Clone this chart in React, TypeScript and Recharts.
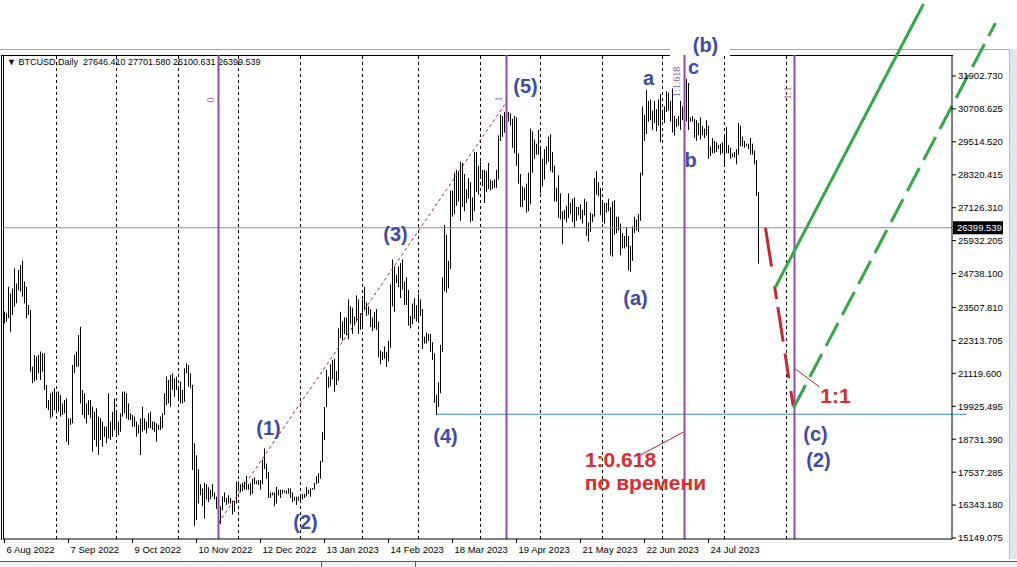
import React from "react";
import { ComposedChart, Bar, XAxis, YAxis, ReferenceLine, ReferenceDot } from "recharts";

// daily bars, BTCUSD, starting 6 Aug 2022 (index 0)
const HIGH = [
  23360, 23300, 24260, 24020, 24200, 24930, 24380, 24870, 25050, 25210,
  24450, 24260, 23600, 23420, 21360, 21790, 21730, 21790, 21910, 21850,
  21850, 20700, 20150, 20400, 20460, 20580, 20460, 20460, 20330, 20030,
  20150, 20210, 19490, 19490, 21420, 21790, 21910, 22510, 22810, 20520,
  20400, 20030, 20150, 20150, 19910, 19730, 19850, 19550, 19490, 19370,
  19190, 19190, 20400, 19370, 19730, 20210, 19790, 19370, 19670, 20460,
  20460, 20400, 20030, 19670, 19610, 19550, 19370, 19250, 19490, 19910,
  19490, 19370, 19670, 19730, 19370, 19370, 19310, 19250, 19550, 19670,
  20400, 21000, 20880, 21060, 21120, 20940, 21000, 20640, 20820, 20520,
  21300, 21480, 21420, 21120, 20700, 18590, 18150, 17650, 17100, 16950,
  17150, 17100, 16990, 16900, 17100, 16800, 16650, 16300, 16300, 16650,
  16800, 16600, 16700, 16600, 16500, 16500, 17200, 17200, 17100, 17150,
  17200, 17400, 17100, 17150, 17300, 17350, 17230, 17250, 17250, 18000,
  18400, 17850, 17550, 16800, 16800, 16800, 17000, 16900, 16900, 16900,
  16880, 16870, 16950, 16950, 16800, 16650, 16650, 16650, 16650, 16750,
  16750, 17000, 16900, 16950, 16960, 17150, 17400, 17500, 17950, 19000,
  19900, 21250, 21000, 21450, 21600, 21650, 21200, 22750, 23350, 23000,
  23150, 23150, 23800, 23550, 23500, 23180, 23950, 23800, 23300, 23800,
  24250, 23700, 23550, 23450, 23150, 23350, 23450, 23000, 21950, 21900,
  22100, 21900, 22300, 24350, 25250, 25000, 24700, 25000, 25120, 25250,
  24450, 24600, 24150, 23200, 23650, 23850, 23600, 24000, 23800, 23450,
  22450, 22600, 22550, 22550, 22250, 21850, 20350, 20800, 22150, 24600,
  26500, 26150, 25200, 27750, 27750, 28400, 28500, 28450, 28800, 28750,
  28350, 27800, 28200, 28050, 27500, 29150, 29150, 28650, 28800, 28500,
  28500, 28450, 28750, 28150, 28100, 28150, 28500, 29750, 30500, 30450,
  30600, 31000, 30600, 30550, 30350, 30450, 30400, 29100, 28350, 27900,
  27850, 28000, 28400, 30000, 29900, 29600, 29450, 29950, 29350, 28900,
  29250, 29350, 29700, 29800, 29150, 28650, 27850, 28300, 27650, 27000,
  27050, 27200, 27650, 27300, 27450, 27500, 27150, 27150, 27250, 27050,
  27450, 27350, 26600, 26950, 26900, 28200, 28450, 28050, 27850, 27350,
  27300, 27300, 27450, 27150, 27350, 27400, 26800, 26800, 26550, 26200,
  26100, 26400, 26100, 25750, 26450, 26800, 26700, 26900, 28400, 30800,
  30500, 31400, 31000, 31050, 30650, 31000, 30700, 31050, 31250, 30650,
  30800, 31350, 31300, 31000, 31450, 30450, 30350, 30450, 31000, 30800,
  30950, 31800, 31650, 30400, 30450, 30350, 30300, 30200, 30400, 30100,
  30000, 30300, 30100, 29350, 29650, 29550, 29500, 29400, 29450, 29500,
  29750, 30050, 29400, 29300, 29100, 29150, 29250, 30200, 30100, 29700,
  29550, 29450, 29450, 29650, 29450, 29200, 28850, 27700,
];

const LOW = [
  22930, 22990, 23120, 22630, 23240, 23540, 23660, 24140, 24080, 23900,
  23660, 23120, 23240, 21180, 20760, 20820, 20880, 21120, 20880, 21180,
  20520, 19850, 19790, 19490, 19550, 19790, 19670, 19730, 19550, 19610,
  19670, 18640, 18520, 19250, 19310, 21120, 21360, 21360, 20030, 19610,
  19490, 19310, 19610, 19490, 18280, 18700, 18460, 18160, 18700, 18460,
  18820, 18580, 18760, 18700, 18820, 19070, 18940, 18880, 19000, 19550,
  19670, 19490, 19430, 19430, 19190, 19190, 18820, 18940, 18160, 19000,
  19070, 18940, 19130, 19130, 19070, 19000, 18640, 19070, 19070, 19130,
  19610, 19970, 20030, 19910, 20520, 20270, 20520, 20150, 20030, 20030,
  20090, 21120, 20640, 20580, 17610, 15590, 15800, 16400, 16700, 16300,
  15850, 16550, 16450, 16550, 16650, 16550, 16200, 15500, 15650, 16150,
  16450, 16350, 16400, 16400, 16000, 16100, 16400, 16850, 16800, 16850,
  16900, 16900, 16900, 16700, 16750, 17100, 17100, 17070, 16900, 17100,
  17650, 17300, 16600, 16600, 16700, 16300, 16400, 16700, 16600, 16750,
  16800, 16750, 16750, 16600, 16450, 16500, 16350, 16500, 16500, 16550,
  16600, 16650, 16750, 16650, 16900, 16900, 17100, 17150, 17300, 17900,
  18700, 19900, 20600, 20650, 20900, 20450, 20700, 20850, 22400, 22300,
  22550, 22500, 22350, 22900, 22550, 22850, 23000, 22550, 22700, 22850,
  23400, 23200, 23250, 22800, 22650, 22750, 22700, 21700, 21450, 21600,
  21650, 21350, 21550, 22050, 23550, 23350, 24400, 24250, 23850, 24150,
  23600, 23600, 22850, 22750, 22900, 23100, 23000, 23050, 23200, 22000,
  22200, 22200, 22300, 21900, 21600, 20050, 19600, 19900, 20400, 21900,
  24100, 24050, 24200, 24900, 26800, 26900, 27200, 27350, 26650, 27150,
  27000, 27300, 27450, 26600, 26650, 27000, 27700, 27600, 28250, 27900,
  27300, 27700, 27800, 27750, 27800, 27850, 27850, 28150, 29550, 29700,
  29850, 29950, 30250, 30100, 29300, 29100, 28650, 28000, 27150, 27150,
  27400, 26950, 27000, 27250, 28400, 28900, 29050, 29050, 27650, 27900,
  28150, 28700, 28800, 28450, 28400, 27350, 27350, 26750, 26700, 25800,
  26700, 26600, 26750, 26900, 26600, 26400, 26650, 26850, 26700, 26550,
  26850, 26100, 25900, 26250, 26600, 26800, 27600, 27550, 26850, 26600,
  26550, 26950, 27000, 25400, 25350, 26150, 26200, 26300, 25400, 25650,
  25650, 25700, 24850, 24800, 25200, 26200, 26300, 26250, 26650, 28300,
  29550, 29800, 30250, 30300, 29950, 30200, 29900, 30100, 29500, 30300,
  30200, 30600, 30650, 30250, 29850, 29750, 30050, 30100, 29950, 30300,
  30200, 30250, 29950, 30250, 30250, 29650, 29550, 29750, 29600, 29750,
  29650, 29750, 28900, 29000, 29100, 29100, 29150, 29250, 29050, 29100,
  28650, 29100, 29100, 28900, 28950, 28950, 28700, 29050, 29350, 29350,
  29300, 29350, 29250, 29050, 29050, 28700, 27550, 25100,
];

const DATE_TICKS = [0, 32, 64, 96, 128, 160, 192, 224, 256, 288, 320, 352];
const DATE_LABELS = [
  "6 Aug 2022", "7 Sep 2022", "9 Oct 2022", "10 Nov 2022", "12 Dec 2022", "13 Jan 2023",
  "14 Feb 2023", "18 Mar 2023", "19 Apr 2023", "21 May 2023", "22 Jun 2023", "24 Jul 2023",
];
const PRICE_TICKS = [
  15149.075, 16343.18, 17537.285, 18731.39, 19925.495, 21119.6, 22313.705, 23507.81,
  24738.1, 25932.205, 27126.31, 28320.415, 29514.52, 30708.625, 31902.73,
];
const MONTH_STARTS = [26, 56, 87, 117, 148, 179, 207, 238, 268, 299, 329, 360, 391];

const FIBO_TIME = [107, 251, 340, 395];
const FIBO_TEXT = ["0", "1", "1:1.618", "1:1"];
const FIBO_TEXT_X = [103, 247, 336, 391.5];
const FIBO_TEXT_Y = [31032, 31068, 31685, 31286];

const LAST_PRICE = 26399.539;
const SUPPORT = 19636;

const TREND = [[107, 15694], [251, 30960]];
const RED_LEG = [[380.5, 26391], [394.5, 19864]];
const GREEN_SOLID = [[385.5, 24251], [459.5, 34513]];
const GREEN_DASH = [[394.5, 19864], [495.5, 33824]];
const POINTER_1 = [[395.5, 21278], [407.5, 20625]];
const POINTER_2 = [[318, 18160], [339.5, 18994]];

const WAVE_TEXT = ["(1)", "(2)", "(3)", "(4)", "(5)", "a", "(b)", "c", "b", "(a)", "(c)", "(2)"];
const WAVE_X = [132, 150.5, 195.5, 220.5, 260.5, 322, 350.5, 344.5, 343, 315.5, 405.5, 407];
const WAVE_Y = [19139, 15730, 26174, 18849, 31540, 31830, 33027, 32229, 28857, 23853, 18921, 17979];

const NOTE_TEXT = ["1:1", "1:0.618", "по времени"];
const NOTE_X = [415.5, 308, 320.5];
const NOTE_Y = [20299, 17979, 17145];

const data = HIGH.map((h, i) => ({ i, range: [LOW[i], h] }));

const FONT = "'Liberation Sans', Arial, sans-serif";
const BLUE = "#3d4aa8";
const RED = "#dd2c2c";
const PURPLE = "#8e4aaa";
const GREEN = "#34a84a";

const seg = (p: number[][]) => p.map(([x, y]) => ({ x, y }));

const OhlcBar = (p: any) => {
  const cx = Math.floor(p.x + p.width / 2);
  const top = p.height < 0 ? p.y + p.height : p.y;
  return <rect x={cx} y={top} width={1} height={Math.max(Math.abs(p.height), 1)} fill="#000" />;
};

const DateTick = (p: any) => {
  const k = DATE_TICKS.indexOf(p.payload.value);
  const x = Math.floor(p.x) + 0.5;
  return (
    <g>
      <line x1={x} x2={x} y1={p.y} y2={p.y + 4} stroke="#000" />
      <text x={x + 2} y={p.y + 14} fontSize={9.5} fontFamily={FONT} fill="#000">{DATE_LABELS[k]}</text>
    </g>
  );
};

const textShape = (label: string, color: string, size: number, bold = true) => (p: any) => (
  <text x={p.cx} y={p.cy} textAnchor="middle" dominantBaseline="central" fill={color}
    fontSize={size} fontWeight={bold ? 700 : 400} fontFamily={FONT}>{label}</text>
);

const fiboShape = (label: string) => (p: any) => (
  <text x={p.cx} y={p.cy} textAnchor="middle" dominantBaseline="central" fill={PURPLE}
    fontSize={10} fontFamily="'Liberation Serif', serif" transform={`rotate(-90 ${p.cx} ${p.cy})`}>{label}</text>
);

const PriceTag = (p: any) => (
  <g>
    <rect x={p.cx + 1} y={p.cy - 6.5} width={50} height={13} fill="#000" />
    <text x={p.cx + 5} y={p.cy} dominantBaseline="central" fill="#fff" fontSize={9.5} fontFamily={FONT}>
      {LAST_PRICE.toFixed(3)}
    </text>
  </g>
);

export default function App() {
  return (
    <div style={{ position: "absolute", left: 0, top: 0, width: 1017, height: 567, background: "#fff", overflow: "hidden" }}>
      {/* terminal frame */}
      <div style={{ position: "absolute", left: 0, top: 49, width: 1009, height: 1, background: "#a9a9a9" }} />
      <div style={{ position: "absolute", left: 1, top: 55, width: 951, height: 484, borderLeft: "1px solid #000", borderTop: "1px solid #000" }} />
      <div style={{ position: "absolute", left: 3, top: 56, width: 1, height: 483, background: "#000" }} />
      <div style={{ position: "absolute", left: 670, top: 46, width: 60, height: 12, background: "#fff" }} />
      <div style={{ position: "absolute", left: 1009, top: 49, width: 8, height: 510, background: "#dfe6ee", borderLeft: "1px solid #b8b8b8" }} />
      <div style={{ position: "absolute", left: 0, top: 561, width: 1017, height: 6, background: "#f0f0f0", borderTop: "1px solid #606060" }} />
      <div style={{ position: "absolute", left: 321, top: 561, width: 1, height: 6, background: "#606060" }} />
      <div style={{ position: "absolute", left: 415, top: 561, width: 1, height: 6, background: "#606060" }} />
      <div style={{ position: "absolute", left: 7, top: 57, fontFamily: FONT, fontSize: 9, color: "#000", whiteSpace: "pre" }}>
        {"▼ BTCUSD,Daily  27646.410 27701.580 25100.631 26399.539"}
      </div>
      <div style={{ position: "absolute", left: 0, top: 0 }}>
        <ComposedChart width={1017} height={567} data={data} margin={{ top: 55, right: 5, bottom: 8, left: 3 }}>
          <XAxis dataKey="i" type="number" domain={[-0.75, 473.75]} allowDataOverflow ticks={DATE_TICKS}
            interval={0} tick={<DateTick />} tickLine={false} tickSize={0} tickMargin={0} height={20}
            axisLine={{ stroke: "#000" }} />
          <YAxis orientation="right" type="number" domain={[15112.8, 32664.3]} allowDataOverflow ticks={PRICE_TICKS}
            interval={0} width={60} tickSize={4} tickMargin={2} tickFormatter={(v: number) => v.toFixed(3)}
            tick={{ fontSize: 9.5, fill: "#000", fontFamily: FONT }} axisLine={{ stroke: "#000" }} tickLine={{ stroke: "#000" }} />
          {MONTH_STARTS.map((m) => (
            <ReferenceLine key={"m" + m} x={m} stroke="#000" strokeDasharray="3 3" strokeWidth={1} />
          ))}
          <ReferenceLine y={LAST_PRICE} stroke="#8c8c8c" strokeWidth={1} />
          <ReferenceLine segment={[{ x: 216, y: SUPPORT }, { x: 481, y: SUPPORT }]} stroke="#3b8bc2" strokeWidth={1} ifOverflow="visible" />
          {FIBO_TIME.map((f) => (
            <ReferenceLine key={"f" + f} x={f} stroke={PURPLE} strokeWidth={2} />
          ))}
          <Bar dataKey="range" barSize={2} shape={<OhlcBar />} isAnimationActive={false} />
          <ReferenceLine segment={seg(TREND)} stroke="#a02828" strokeDasharray="3 3" strokeWidth={1} />
          <ReferenceLine segment={seg(POINTER_1)} stroke="#a02828" strokeWidth={1} ifOverflow="visible" />
          <ReferenceLine segment={seg(POINTER_2)} stroke="#a02828" strokeWidth={1} ifOverflow="visible" />
          <ReferenceLine segment={seg(RED_LEG)} stroke="#c8282f" strokeWidth={3} ifOverflow="visible"
            strokeDasharray="39 20 13 8 35 12 25 13 15" />
          <ReferenceLine segment={seg(GREEN_SOLID)} stroke={GREEN} strokeWidth={3} ifOverflow="visible" />
          <ReferenceLine segment={seg(GREEN_DASH)} stroke={GREEN} strokeWidth={3} ifOverflow="visible" strokeDasharray="26 9" />
          {FIBO_TEXT.map((t, k) => (
            <ReferenceDot key={"ft" + k} x={FIBO_TEXT_X[k]} y={FIBO_TEXT_Y[k]} ifOverflow="visible" shape={fiboShape(t)} />
          ))}
          {WAVE_TEXT.map((t, k) => (
            <ReferenceDot key={"w" + k} x={WAVE_X[k]} y={WAVE_Y[k]} ifOverflow="visible" shape={textShape(t, BLUE, 20)} />
          ))}
          {NOTE_TEXT.map((t, k) => (
            <ReferenceDot key={"n" + k} x={NOTE_X[k]} y={NOTE_Y[k]} ifOverflow="visible" shape={textShape(t, RED, 21)} />
          ))}
          <ReferenceDot x={473.75} y={LAST_PRICE} ifOverflow="visible" shape={PriceTag} />
        </ComposedChart>
      </div>
    </div>
  );
}
